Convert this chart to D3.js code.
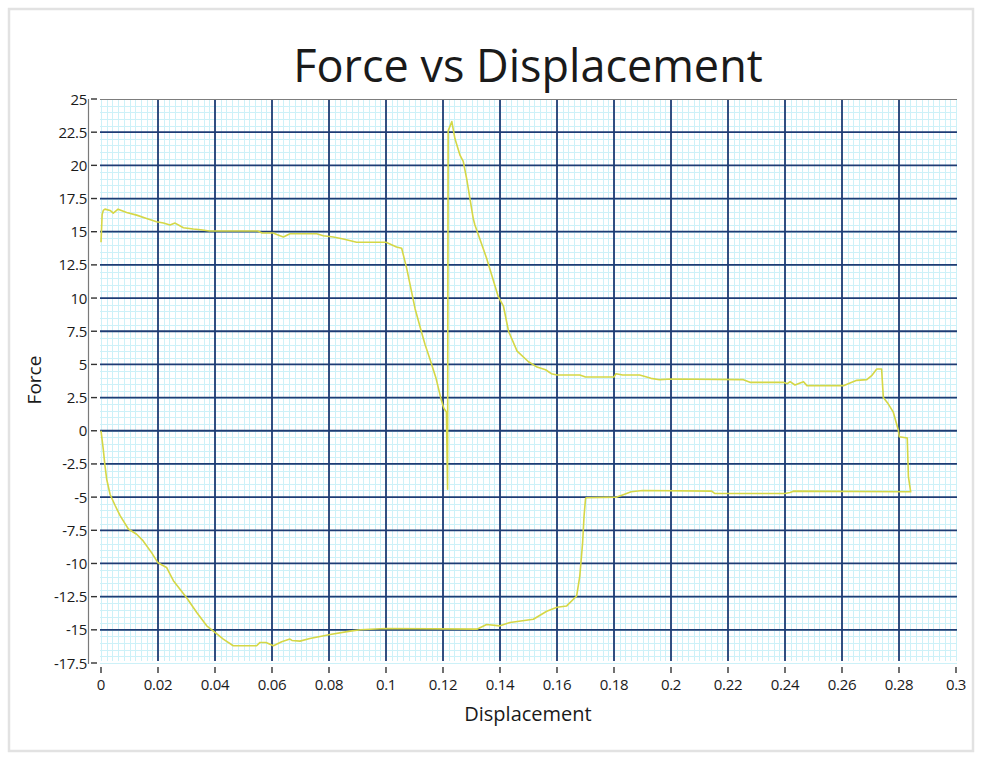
<!DOCTYPE html>
<html>
<head>
<meta charset="utf-8">
<script src="https://cdn.jsdelivr.net/npm/d3@7"></script>
<style>
  html, body { margin: 0; padding: 0; background: #ffffff; }
  svg { display: block; }
  text { font-family: "Open Sans", "Noto Sans", sans-serif; fill: #1a1a1a; }
</style>
</head>
<body>
<svg id="chart" width="982" height="762"></svg>
<script>
// Force / displacement loop, traced in drawing order
const displacement = [
  0, 0.0004, 0.0008, 0.0014, 0.0032, 0.0043, 0.006, 0.009, 0.0125, 0.016,
  0.0195, 0.0219, 0.0242, 0.026, 0.0289, 0.0324, 0.035, 0.038, 0.055, 0.0565,
  0.0604, 0.0628, 0.064, 0.0663, 0.0757, 0.078, 0.0815, 0.085, 0.0897, 0.1,
  0.1037, 0.1055, 0.1073, 0.1102, 0.1125, 0.1137, 0.1154, 0.1175, 0.1193, 0.1203,
  0.1212, 0.1216, 0.1218, 0.1231, 0.1242, 0.126, 0.1271, 0.1283, 0.1306, 0.1312,
  0.1353, 0.1394, 0.1412, 0.143, 0.146, 0.15, 0.153, 0.156, 0.158, 0.16,
  0.168, 0.17, 0.18, 0.1807, 0.183, 0.189, 0.193, 0.196, 0.2, 0.2254,
  0.2277, 0.2394, 0.2408, 0.2418, 0.2435, 0.2453, 0.2465, 0.2477, 0.2605, 0.2628,
  0.2652, 0.2687, 0.2704, 0.2722, 0.2739, 0.2745, 0.276, 0.278, 0.2797, 0.2801,
  0.2829, 0.2833, 0.2841,
  0.2429, 0.2418, 0.24, 0.2154, 0.2143, 0.19, 0.186, 0.1835, 0.181, 0.1702,
  0.17, 0.1695, 0.169, 0.168, 0.1669, 0.1634, 0.16, 0.1564, 0.1517, 0.1435,
  0.14, 0.1353, 0.1319, 0.1, 0.091, 0.0874, 0.0804, 0.0733, 0.0698, 0.067,
  0.0663, 0.0634, 0.0605, 0.0579, 0.0558, 0.0546, 0.0464, 0.0429, 0.04, 0.0371,
  0.0336, 0.0301, 0.0254, 0.023, 0.02, 0.0178, 0.0148, 0.0125, 0.0096, 0.0067,
  0.005, 0.0032, 0.002, 0.0014, 0.0008, 0
];
const force = [
  14.2, 16.3, 16.6, 16.7, 16.6, 16.4, 16.7, 16.45, 16.25, 16.0,
  15.75, 15.65, 15.5, 15.65, 15.3, 15.2, 15.15, 15.05, 15.05, 14.9,
  14.9, 14.7, 14.6, 14.85, 14.85, 14.7, 14.6, 14.45, 14.2, 14.2,
  13.85, 13.75, 12.2, 9.2, 7.4, 6.5, 5.4, 4.0, 2.4, 1.7,
  1.4, -4.4, 22.6, 23.3, 22.0, 20.75, 20.3, 19.0, 16.0, 15.5,
  13.0, 10.1, 9.4, 7.5, 6.0, 5.2, 4.8, 4.6, 4.3, 4.2,
  4.2, 4.05, 4.05, 4.3, 4.2, 4.2, 3.95, 3.85, 3.9, 3.85,
  3.65, 3.65, 3.55, 3.7, 3.45, 3.6, 3.7, 3.4, 3.4, 3.6,
  3.8, 3.85, 4.15, 4.65, 4.65, 2.5, 2.1, 1.4, 0.1, -0.45,
  -0.55, -3.45, -4.6,
  -4.55, -4.65, -4.73, -4.73, -4.55, -4.5, -4.6, -4.8, -5.0, -5.05,
  -5.15, -6.4, -8.4, -10.95, -12.45, -13.2, -13.3, -13.6, -14.2, -14.45,
  -14.7, -14.6, -14.95, -14.9, -15.0, -15.1, -15.35, -15.65, -15.85, -15.8,
  -15.7, -15.9, -16.2, -15.95, -15.95, -16.2, -16.2, -15.7, -15.2, -14.7,
  -13.7, -12.6, -11.3, -10.3, -9.95, -9.2, -8.3, -7.8, -7.4, -6.4,
  -5.65, -4.8, -3.65, -2.65, -1.4, 0
];

// Axis ticks and labels
const xTickValues = [0, 0.02, 0.04, 0.06, 0.08, 0.1, 0.12, 0.14, 0.16, 0.18, 0.2, 0.22, 0.24, 0.26, 0.28, 0.3];
const xTickLabels = ["0", "0.02", "0.04", "0.06", "0.08", "0.1", "0.12", "0.14", "0.16", "0.18", "0.2", "0.22", "0.24", "0.26", "0.28", "0.3"];
const yTickValues = [25, 22.5, 20, 17.5, 15, 12.5, 10, 7.5, 5, 2.5, 0, -2.5, -5, -7.5, -10, -12.5, -15, -17.5];
const yTickLabels = ["25", "22.5", "20", "17.5", "15", "12.5", "10", "7.5", "5", "2.5", "0", "-2.5", "-5", "-7.5", "-10", "-12.5", "-15", "-17.5"];
const xMinorStep = 0.002;
const yMinorStep = 0.5;

const titleText = "Force vs Displacement";
const xTitle = "Displacement";
const yTitle = "Force";

const svg = d3.select("#chart");
const W = 982, H = 762;
const plot = { left: 100, right: 957, top: 99, bottom: 663 };

// outer panel frame
svg.append("rect").attr("x", 0).attr("y", 0).attr("width", W).attr("height", H).attr("fill", "#ffffff");
svg.append("rect").attr("x", 9).attr("y", 9).attr("width", 964).attr("height", 742)
  .attr("fill", "#ffffff").attr("stroke", "#e2e2e2").attr("stroke-width", 2.5);

const x = d3.scaleLinear().domain([0, 0.3]).range([101, 956]);
const y = d3.scaleLinear().domain([-17.5, 25]).range([663, 99]);

// plot background
svg.append("rect").attr("x", plot.left).attr("y", plot.top)
  .attr("width", plot.right - plot.left).attr("height", plot.bottom - plot.top - 2)
  .attr("fill", "#ffffff");

const grid = svg.append("g");

// minor grid
const minorColor = "#cdf1f8";
const xMinor = d3.range(0, 300 + 1, xMinorStep * 1000).map(v => v / 1000);
const yMinor = d3.range(-35, 50 + 1, yMinorStep * 2).map(v => v / 2);
grid.selectAll("line.xmin").data(xMinor).join("line")
  .attr("x1", d => Math.round(x(d)) + 0.5).attr("x2", d => Math.round(x(d)) + 0.5)
  .attr("y1", plot.top).attr("y2", plot.bottom - 2)
  .attr("stroke", minorColor).attr("stroke-width", 1);
grid.selectAll("line.ymin").data(yMinor).join("line")
  .attr("y1", d => Math.round(y(d)) + 0.5).attr("y2", d => Math.round(y(d)) + 0.5)
  .attr("x1", plot.left).attr("x2", plot.right)
  .attr("stroke", minorColor).attr("stroke-width", 1);

// major grid
const majorColor = "#1f3c74";
grid.selectAll("line.xmaj").data(xTickValues.filter(v => v > 0 && v < 0.3)).join("line")
  .attr("x1", d => x(d)).attr("x2", d => x(d))
  .attr("y1", plot.top).attr("y2", plot.bottom - 2)
  .attr("stroke", majorColor).attr("stroke-width", 1.8);
grid.selectAll("line.ymaj").data(yTickValues.filter(v => v < 25 && v > -17.5)).join("line")
  .attr("y1", d => y(d)).attr("y2", d => y(d))
  .attr("x1", plot.left).attr("x2", plot.right)
  .attr("stroke", majorColor).attr("stroke-width", 1.8);

// top border of plot
svg.append("line").attr("x1", plot.left).attr("x2", plot.right)
  .attr("y1", plot.top + 0.5).attr("y2", plot.top + 0.5)
  .attr("stroke", "#7d7d7d").attr("stroke-width", 1.2);

// curve
const pts = displacement.map((d, i) => [d, force[i]]);
const line = d3.line().x(d => x(d[0])).y(d => y(d[1]));
svg.append("path").datum(pts).attr("d", line)
  .attr("fill", "none").attr("stroke", "#d5d746").attr("stroke-width", 1.6)
  .attr("stroke-linejoin", "round");

// left axis: line, ticks and labels
const yAxis = svg.append("g");
yAxis.append("line").attr("x1", 88.5).attr("x2", 88.5).attr("y1", plot.top).attr("y2", plot.bottom + 1)
  .attr("stroke", "#7a7a7a").attr("stroke-width", 1.2);
yAxis.selectAll("line.t").data(yTickValues).join("line")
  .attr("x1", 91).attr("x2", 97)
  .attr("y1", d => y(d)).attr("y2", d => y(d))
  .attr("stroke", "#333").attr("stroke-width", 1.4);
yAxis.selectAll("text").data(yTickValues).join("text")
  .attr("x", 87).attr("y", d => y(d) + 5.5)
  .attr("text-anchor", "end").attr("font-size", 15).attr("letter-spacing", -0.3)
  .text((d, i) => yTickLabels[i]);

// bottom axis: ticks and labels
const xAxis = svg.append("g");
xAxis.selectAll("line").data(xTickValues).join("line")
  .attr("x1", d => x(d)).attr("x2", d => x(d))
  .attr("y1", 667).attr("y2", 673)
  .attr("stroke", "#333").attr("stroke-width", 1.4);
xAxis.selectAll("text").data(xTickValues).join("text")
  .attr("x", d => x(d)).attr("y", 690)
  .attr("text-anchor", "middle").attr("font-size", 15).attr("letter-spacing", -0.3)
  .text((d, i) => xTickLabels[i]);

// titles
svg.append("text").attr("x", 528).attr("y", 82).attr("text-anchor", "middle")
  .attr("font-size", 45).attr("fill", "#111").text(titleText);
svg.append("text").attr("x", 528).attr("y", 721).attr("text-anchor", "middle")
  .attr("font-size", 20).text(xTitle);
svg.append("text").attr("transform", "translate(41,380) rotate(-90)").attr("text-anchor", "middle")
  .attr("font-size", 19).text(yTitle);
</script>
</body>
</html>
